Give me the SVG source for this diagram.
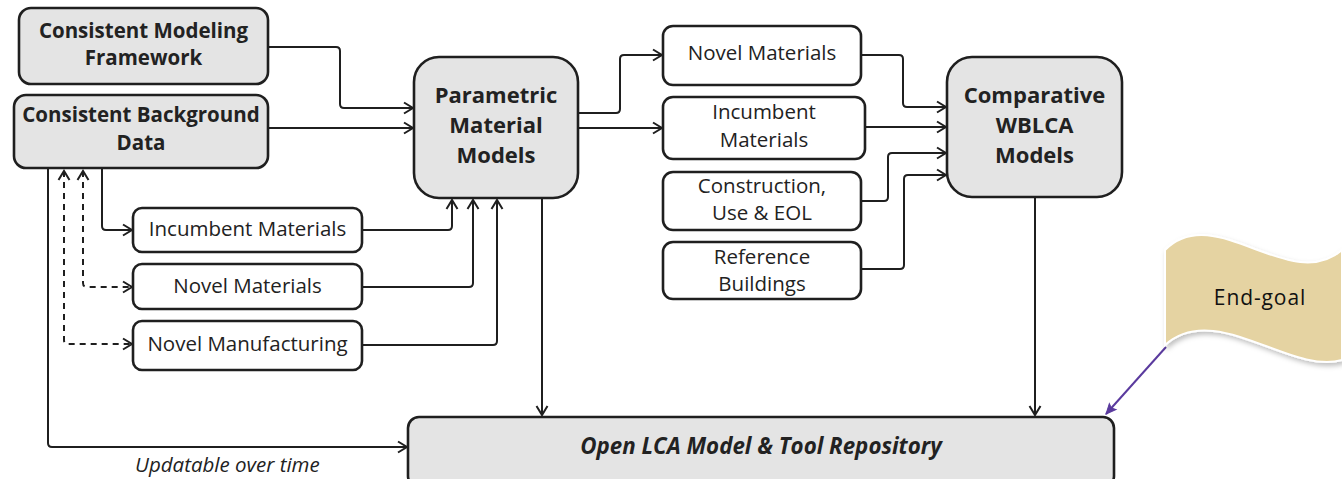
<svg xmlns="http://www.w3.org/2000/svg" width="1342" height="479" viewBox="0 0 1342 479">
  <defs>
    <style>
      .box { stroke: #1f1f1f; stroke-width: 2.6; }
      .grey { fill: #e4e4e4; }
      .white { fill: #ffffff; }
      .hd { font-family: "Open Sans", "Noto Sans", sans-serif; font-weight: 700; fill: #222; text-anchor: middle; }
      .tx { font-family: "Open Sans", "Noto Sans", sans-serif; font-weight: 400; fill: #222; text-anchor: middle; font-size: 20.5px; }
      .ln { fill: none; stroke: #1f1f1f; stroke-width: 2; }
      .dash { stroke-dasharray: 6 5; }
    </style>
    <marker id="arr" markerUnits="userSpaceOnUse" markerWidth="14" markerHeight="14" viewBox="-2 -7 14 14" refX="9" refY="0" orient="auto-start-reverse">
      <path d="M0,-5.5 L9,0 L0,5.5" fill="none" stroke="#1f1f1f" stroke-width="2"/>
    </marker>
    <marker id="arrP" markerUnits="userSpaceOnUse" markerWidth="14" markerHeight="14" viewBox="-2 -7 14 14" refX="10" refY="0" orient="auto">
      <path d="M0,-4.5 L10,0 L0,4.5 L2,0 Z" fill="#5a3a9e" stroke="#5a3a9e" stroke-width="1"/>
    </marker>
    <filter id="shadow" x="-20%" y="-20%" width="140%" height="150%">
      <feDropShadow dx="2" dy="3" stdDeviation="2.5" flood-color="#000" flood-opacity="0.25"/>
    </filter>
  </defs>

  <rect width="1342" height="479" fill="#ffffff"/>

  <!-- connectors -->
  <g id="connectors">
    <path class="ln" d="M268,47 H336 Q340,47 340,51 V104 Q340,108 344,108 H413" marker-end="url(#arr)"/>
    <path class="ln" d="M268,128 H413" marker-end="url(#arr)"/>
    <path class="ln" d="M578,113 H616 Q620,113 620,109 V59 Q620,55 624,55 H662" marker-end="url(#arr)"/>
    <path class="ln" d="M578,128 H662" marker-end="url(#arr)"/>
    <path class="ln" d="M861,55 H899 Q903,55 903,59 V103 Q903,107 907,107 H946" marker-end="url(#arr)"/>
    <path class="ln" d="M865,127 H946" marker-end="url(#arr)"/>
    <path class="ln" d="M861,201 H884 Q888,201 888,197 V157 Q888,153 892,153 H946" marker-end="url(#arr)"/>
    <path class="ln" d="M861,269 H900 Q904,269 904,265 V179 Q904,175 908,175 H946" marker-end="url(#arr)"/>
    <path class="ln" d="M1035,198 V415" marker-end="url(#arr)"/>
    <path class="ln" d="M542,199 V415" marker-end="url(#arr)"/>
    <path class="ln" d="M48,169 V443 Q48,447 52,447 H407" marker-end="url(#arr)"/>
    <path class="ln" d="M102,169 V226 Q102,230 106,230 H132" marker-end="url(#arr)"/>
    <path class="ln" d="M362,230 H448 Q452,230 452,226 V200" marker-end="url(#arr)"/>
    <path class="ln" d="M362,287 H469 Q473,287 473,283 V200" marker-end="url(#arr)"/>
    <path class="ln" d="M362,345 H493 Q497,345 497,341 V200" marker-end="url(#arr)"/>
    <path class="ln dash" d="M83,171 V283 Q83,287 87,287 H132" marker-start="url(#arr)" marker-end="url(#arr)"/>
    <path class="ln dash" d="M64,171 V340 Q64,344 68,344 H132" marker-start="url(#arr)" marker-end="url(#arr)"/>
    <path fill="none" stroke="#5a3a9e" stroke-width="2" d="M1166,347 L1106,414" marker-end="url(#arrP)"/>
  </g>

  <!-- framework inputs -->
  <g id="modeling-framework">
    <rect class="box grey" x="19" y="8" width="249" height="76" rx="12"/>
    <text class="hd" font-size="20.5" x="143.5" y="38">Consistent Modeling</text>
    <text class="hd" font-size="20.5" x="143.5" y="65">Framework</text>
  </g>
  <g id="background-data">
    <rect class="box grey" x="14" y="95" width="254" height="73" rx="12"/>
    <text class="hd" font-size="20.5" x="141" y="122">Consistent Background</text>
    <text class="hd" font-size="20.5" x="141" y="150">Data</text>
  </g>

  <!-- material inputs -->
  <g id="incumbent-left">
    <rect class="box white" x="133" y="208" width="229" height="44" rx="9"/>
    <text class="tx" x="247.5" y="236">Incumbent Materials</text>
  </g>
  <g id="novel-left">
    <rect class="box white" x="133" y="264" width="229" height="45" rx="9"/>
    <text class="tx" x="247.5" y="293">Novel Materials</text>
  </g>
  <g id="novel-manufacturing">
    <rect class="box white" x="133" y="321" width="229" height="49" rx="9"/>
    <text class="tx" x="247.5" y="351">Novel Manufacturing</text>
  </g>

  <!-- parametric models -->
  <g id="parametric">
    <rect class="box grey" x="414" y="57" width="164" height="141" rx="25"/>
    <text class="hd" font-size="22" x="496" y="103">Parametric</text>
    <text class="hd" font-size="22" x="496" y="133">Material</text>
    <text class="hd" font-size="22" x="496" y="163">Models</text>
  </g>

  <!-- building-level inputs -->
  <g id="novel-right">
    <rect class="box white" x="663" y="26" width="198" height="59" rx="10"/>
    <text class="tx" x="762" y="60">Novel Materials</text>
  </g>
  <g id="incumbent-right">
    <rect class="box white" x="663" y="97" width="202" height="62" rx="10"/>
    <text class="tx" x="764" y="119">Incumbent</text>
    <text class="tx" x="764" y="147">Materials</text>
  </g>
  <g id="construction">
    <rect class="box white" x="663" y="172" width="198" height="58" rx="10"/>
    <text class="tx" x="762" y="193">Construction,</text>
    <text class="tx" x="762" y="220">Use &amp; EOL</text>
  </g>
  <g id="reference-buildings">
    <rect class="box white" x="663" y="242" width="198" height="57" rx="10"/>
    <text class="tx" x="762" y="264">Reference</text>
    <text class="tx" x="762" y="291">Buildings</text>
  </g>

  <!-- comparative models -->
  <g id="comparative">
    <rect class="box grey" x="947" y="57" width="175" height="140" rx="25"/>
    <text class="hd" font-size="22" x="1034.5" y="103">Comparative</text>
    <text class="hd" font-size="22" x="1034.5" y="133">WBLCA</text>
    <text class="hd" font-size="22" x="1034.5" y="163">Models</text>
  </g>

  <!-- repository -->
  <g id="repository">
    <rect class="box grey" x="408" y="417" width="706" height="70" rx="11"/>
    <text class="hd" font-size="22.3" font-style="italic" x="761" y="454">Open LCA Model &amp; Tool Repository</text>
  </g>

  <g id="updatable-label">
    <text font-family="Open Sans, Noto Sans, sans-serif" font-style="italic" font-size="20.5" fill="#222" x="135" y="472">Updatable over time</text>
  </g>

  <!-- end-goal banner -->
  <g id="end-goal">
    <path d="M1165,250 C1215,200 1290,295 1342,250 L1342,360 C1290,375 1215,300 1165,345 Z" fill="#e5d3a2" stroke="#ffffff" stroke-width="2" filter="url(#shadow)"/>
    <text font-family="Open Sans, Noto Sans, sans-serif" font-size="21" letter-spacing="0.9" fill="#111" text-anchor="middle" x="1260" y="305">End-goal</text>
  </g>
</svg>
